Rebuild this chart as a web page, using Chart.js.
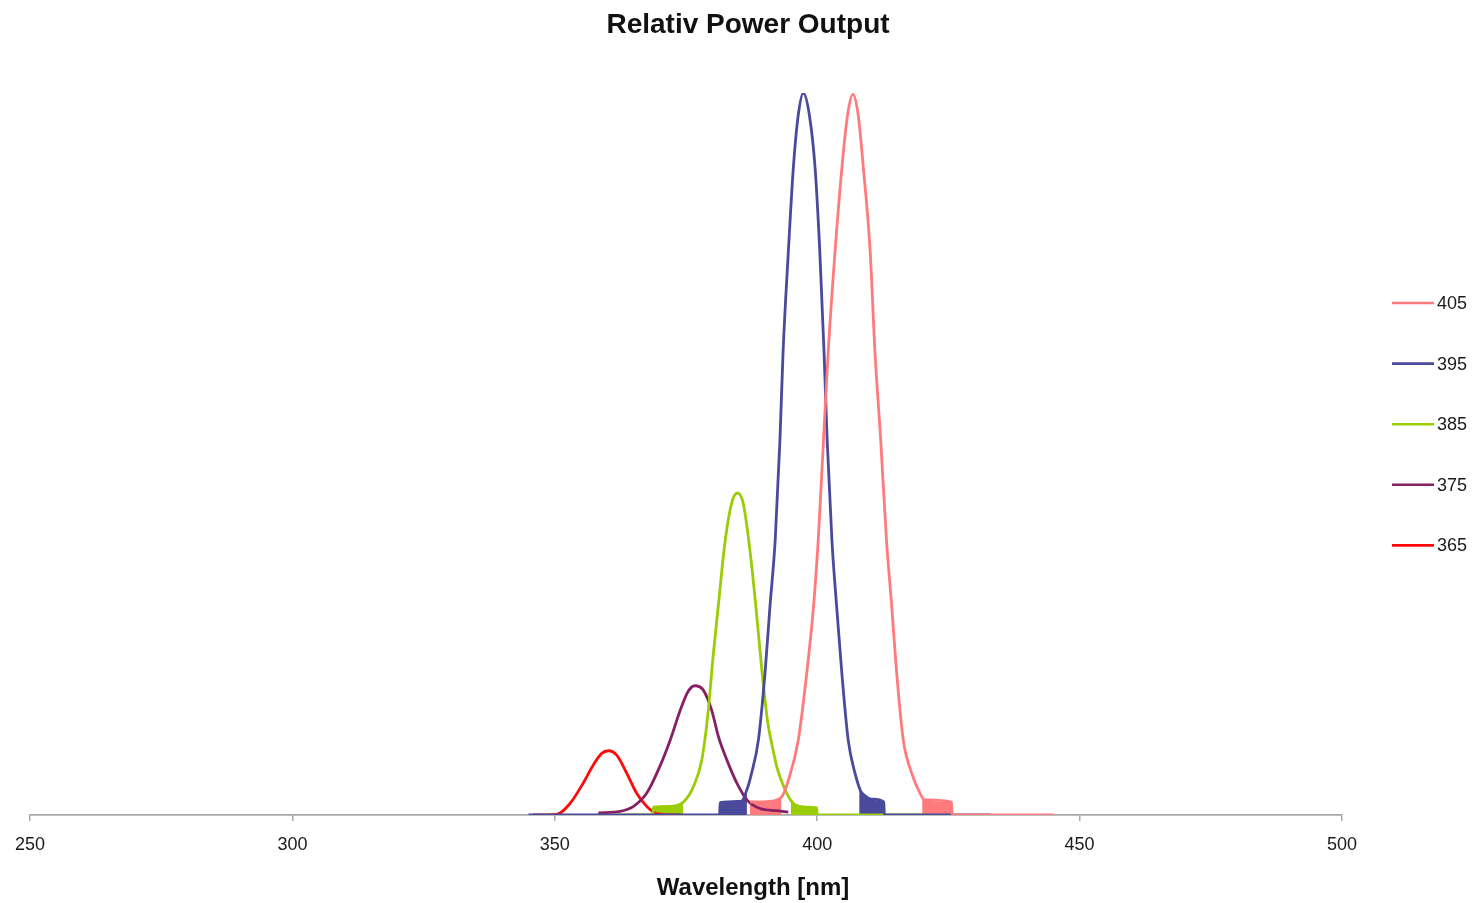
<!DOCTYPE html>
<html>
<head>
<meta charset="utf-8">
<title>Relativ Power Output</title>
<style>
  html, body { margin: 0; padding: 0; background: #fff; }
  canvas { display: block; }
</style>
</head>
<body>
<canvas id="chart" width="1475" height="903"></canvas>
<script src="https://cdn.jsdelivr.net/npm/chart.js@4.4.1/dist/chart.umd.min.js"></script>
<script>
// ---- data (wavelength in nm, relative power) ----
const xTicks = [250, 300, 350, 400, 450, 500];
const ledNames = ["405", "395", "385", "375", "365"];
const chartTitle = "Relativ Power Output";
const xTitle = "Wavelength [nm]";

const wl365 = [345.8, 350.4, 352.9, 355.4, 357.3, 358.9, 360.2, 361.8, 363.7, 365.6, 367.5, 369.4, 373.9];
const pw365 = [0, 0.001, 0.016, 0.044, 0.069, 0.085, 0.089, 0.083, 0.058, 0.030, 0.012, 0.002, 0];

const wl375 = [358.3, 362.4, 365.0, 367.5, 370.0, 372.0, 373.9, 375.4, 376.7, 378.3, 379.9, 381.2, 382.8, 384.7, 386.6, 389.1, 392.3, 394.5];
const pw375 = [0.003, 0.005, 0.012, 0.030, 0.067, 0.104, 0.145, 0.171, 0.179, 0.173, 0.145, 0.108, 0.076, 0.044, 0.021, 0.009, 0.006, 0.004];

const wl385 = [362.0, 366.5, 368.7, 368.8, 372.0, 374.5, 376.4, 378.0, 379.25, 380.1, 381.2, 382.4, 383.7, 384.8, 385.9, 387.0, 388.3, 389.5, 390.6, 391.3, 392.3, 392.9, 394.2, 395.0, 396.1, 398.0, 399.9, 400.0, 421.0];
const pw385 = [0, 0, 0, 0.011, 0.012, 0.018, 0.039, 0.076, 0.145, 0.215, 0.293, 0.376, 0.432, 0.446, 0.432, 0.378, 0.290, 0.197, 0.127, 0.100, 0.067, 0.053, 0.030, 0.020, 0.013, 0.011, 0.010, 0, 0];

const wl395 = [345.0, 381.4, 381.5, 385.5, 386.6, 387.5, 388.8, 390.05, 391.0, 392.0, 392.9, 393.5, 394.5, 395.45, 396.4, 397.35, 398.5, 399.6, 400.5, 401.3, 401.9, 402.8, 403.7, 404.7, 405.9, 407.2, 408.5, 410.5, 412.7, 412.8, 433.0];
const pw395 = [0, 0, 0.017, 0.019, 0.035, 0.058, 0.104, 0.196, 0.289, 0.381, 0.519, 0.642, 0.780, 0.896, 0.970, 1.000, 0.970, 0.896, 0.780, 0.642, 0.519, 0.381, 0.289, 0.196, 0.104, 0.058, 0.030, 0.022, 0.018, 0, 0];

const wl405 = [387.2, 391.0, 393.2, 394.5, 396.4, 398.0, 399.3, 400.2, 401.2, 402.1, 403.4, 404.7, 405.8, 406.8, 407.8, 408.8, 410.1, 411.0, 412.1, 413.2, 414.2, 415.15, 416.4, 418.0, 419.6, 420.5, 425.6, 425.7, 445.0];
const pw405 = [0.018, 0.019, 0.025, 0.048, 0.104, 0.196, 0.289, 0.381, 0.519, 0.642, 0.780, 0.896, 0.970, 0.998, 0.970, 0.896, 0.780, 0.642, 0.519, 0.381, 0.289, 0.196, 0.104, 0.058, 0.030, 0.021, 0.018, 0, 0];

// noisy tails near the baseline (drawn as filled bands)
const band385a = [[368.8, 0.011], [372.0, 0.012], [374.5, 0.018]];
const band385b = [[395.0, 0.020], [396.1, 0.013], [399.9, 0.010]];
const band395a = [[381.5, 0.017], [385.5, 0.019], [386.6, 0.035]];
const band395b = [[408.0, 0.036], [410.5, 0.022], [412.7, 0.018]];
const band405a = [[387.2, 0.018], [391.0, 0.019], [393.2, 0.025]];
const band405b = [[420.0, 0.024], [421.0, 0.020], [425.6, 0.018]];

// ---- styles ----
const colors = {
  "405": "#ff7a7c",
  "395": "#4a4a9c",
  "385": "#9acd05",
  "375": "#862063",
  "365": "#ff0a0a"
};
const FONT = '"Liberation Sans", Arial, Helvetica, sans-serif';

const pts = (xs, ys) => xs.map((x, i) => ({ x: x, y: ys[i] }));
const bandPts = (b) => b.map((p) => ({ x: p[0], y: p[1] }));

function curve(name, xs, ys) {
  return {
    label: name,
    data: pts(xs, ys),
    borderColor: colors[name],
    borderWidth: 2.8,
    fill: false,
    pointRadius: 0,
    cubicInterpolationMode: "monotone"
  };
}
function band(name, b) {
  return {
    label: name + " tail",
    data: bandPts(b),
    borderWidth: 0,
    borderColor: colors[name],
    backgroundColor: colors[name],
    fill: "origin",
    pointRadius: 0,
    cubicInterpolationMode: "monotone"
  };
}

// titles and legend drawn around the plot, placed like the original
const decorations = {
  id: "decorations",
  afterDraw(chart) {
    const ctx = chart.ctx;
    const a = chart.chartArea;
    ctx.save();
    ctx.fillStyle = "#111";
    ctx.textAlign = "center";
    ctx.textBaseline = "alphabetic";
    ctx.font = "bold 28px " + FONT;
    ctx.fillText(chartTitle, 748, a.top - 60);
    ctx.font = "bold 24px " + FONT;
    ctx.fillText(xTitle, 753, a.bottom + 80);

    ctx.font = "18px " + FONT;
    ctx.textBaseline = "middle";
    ctx.textAlign = "left";
    ledNames.forEach((name, i) => {
      const y = a.top + 210 + i * 60.6;
      ctx.strokeStyle = colors[name];
      ctx.lineWidth = 2.6;
      ctx.beginPath();
      ctx.moveTo(a.right + 50, y);
      ctx.lineTo(a.right + 92, y);
      ctx.stroke();
      ctx.fillStyle = "#1a1a1a";
      ctx.fillText(name, a.right + 95, y + 1);
    });
    ctx.restore();
  }
};

new Chart(document.getElementById("chart"), {
  type: "line",
  data: {
    datasets: [
      curve("405", wl405, pw405),
      curve("395", wl395, pw395),
      curve("385", wl385, pw385),
      curve("375", wl375, pw375),
      curve("365", wl365, pw365),
      band("405", band405a), band("405", band405b),
      band("395", band395a), band("395", band395b),
      band("385", band385a), band("385", band385b)
    ]
  },
  options: {
    responsive: false,
    animation: false,
    devicePixelRatio: 1,
    layout: { padding: { left: 30, right: 133, top: 93, bottom: 34.4 } },
    plugins: {
      legend: { display: false },
      tooltip: { enabled: false },
      title: { display: false }
    },
    scales: {
      x: {
        type: "linear",
        min: xTicks[0],
        max: xTicks[xTicks.length - 1],
        afterBuildTicks: (s) => { s.ticks = xTicks.map((v) => ({ value: v })); },
        ticks: {
          color: "#1a1a1a",
          font: { family: FONT, size: 18 },
          padding: 13,
          maxRotation: 0
        },
        grid: { display: true, drawOnChartArea: false, drawTicks: true, tickLength: 6, color: "#a8a8a8", lineWidth: 1.5 },
        border: { display: true, color: "#a8a8a8", width: 1.8 },
        title: { display: false }
      },
      y: { display: false, min: 0, max: 1 }
    }
  },
  plugins: [decorations]
});
</script>
</body>
</html>
